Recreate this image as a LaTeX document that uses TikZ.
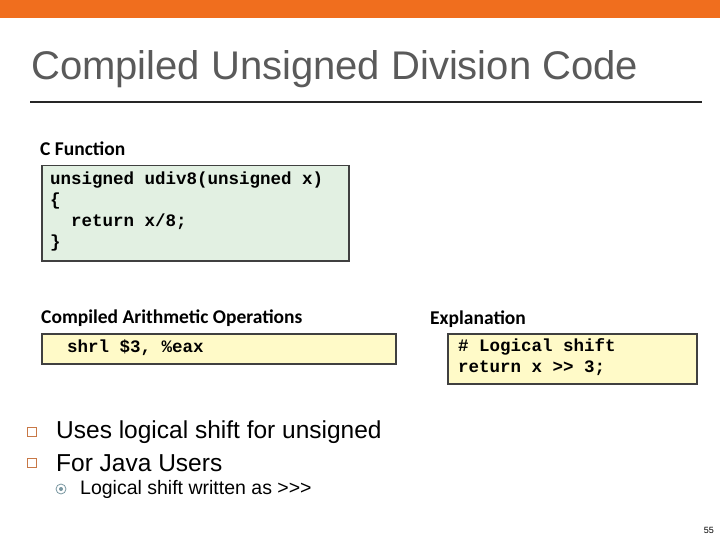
\documentclass[tikz,border=0pt]{standalone}
\usepackage{fontspec}
\setmainfont{Liberation Sans}
\newfontfamily\hdr{Carlito}
\setmonofont{Liberation Mono}
\definecolor{topbar}{RGB}{240,110,30}
\definecolor{titlec}{RGB}{90,90,90}
\definecolor{greenbg}{RGB}{226,240,226}
\definecolor{yellowbg}{RGB}{255,250,200}
\definecolor{bullc}{RGB}{200,120,70}
\definecolor{subc}{RGB}{120,150,160}
\tikzset{
  hdrtext/.style={anchor=west,inner sep=0,font=\hdr\bfseries\fontsize{19.5}{22}\selectfont},
  codebox/.style={draw=black!75,line width=1.5pt,anchor=north west,inner sep=0},
  codetext/.style={anchor=west,inner sep=0,font=\ttfamily\bfseries\fontsize{17.5}{20}\selectfont},
  bultext/.style={anchor=west,inner sep=0,font=\fontsize{24.5}{28}\selectfont},
}
\begin{document}
\begin{tikzpicture}[x=1pt,y=-1pt]
\useasboundingbox (0,0) rectangle (720,540);
\fill[white] (0,0) rectangle (720,540);
\fill[topbar] (0,0) rectangle (720,18);
\node[anchor=west,inner sep=0,text=titlec,font=\fontsize{40}{44}\selectfont] (title) at (31,69) {Compiled Unsigned Division Code};
\draw[line width=2.5pt,black!85] (30,102) -- (702,102);
\node[hdrtext] (cf) at (40,149) {C Function};
\node[codebox,fill=greenbg,minimum width=307pt,minimum height=95pt] (gbox) at (41,165) {};
\node[codetext] (c1) at (50,180) {unsigned udiv8(unsigned x)};
\node[codetext] (c2) at (50,201) {\{};
\node[codetext] (c3) at (50,222) {\ \ return x/8;};
\node[codetext] (c4) at (50,243) {\}};
\node[hdrtext] (cao) at (41,318) {Compiled Arithmetic Operations};
\node[codebox,fill=yellowbg,minimum width=354pt,minimum height=30pt] (ybox) at (41,333) {};
\node[codetext] (a1) at (67,348) {shrl \$3, \%eax};
\node[hdrtext] (ex) at (430,319) {Explanation};
\node[codebox,fill=yellowbg,minimum width=249pt,minimum height=50pt] (ebox) at (447,333) {};
\node[codetext] (e1) at (458,347) {\# Logical shift};
\node[codetext] (e2) at (458,368) {return x >> 3;};
\node[draw=bullc,line width=1.3pt,minimum size=9pt,inner sep=0] (b1) at (32,432) {};
\node[draw=bullc,line width=1.3pt,minimum size=9pt,inner sep=0] (b2) at (32,463) {};
\node[bultext] (t1) at (56,432) {Uses logical shift for unsigned};
\node[bultext] (t2) at (56,463) {For Java Users};
\node[draw=subc,circle,line width=0.8pt,minimum size=10pt,inner sep=0] (s1) at (61,489) {};
\fill[subc] (s1.center) circle (2pt);
\node[anchor=west,inner sep=0,font=\fontsize{19.5}{23}\selectfont] (t3) at (80,489) {Logical shift written as {>}{>}{>}};
\node[anchor=east,inner sep=0,font=\fontsize{9}{10}\selectfont] (pg) at (714,530) {55};
\end{tikzpicture}
\end{document}
